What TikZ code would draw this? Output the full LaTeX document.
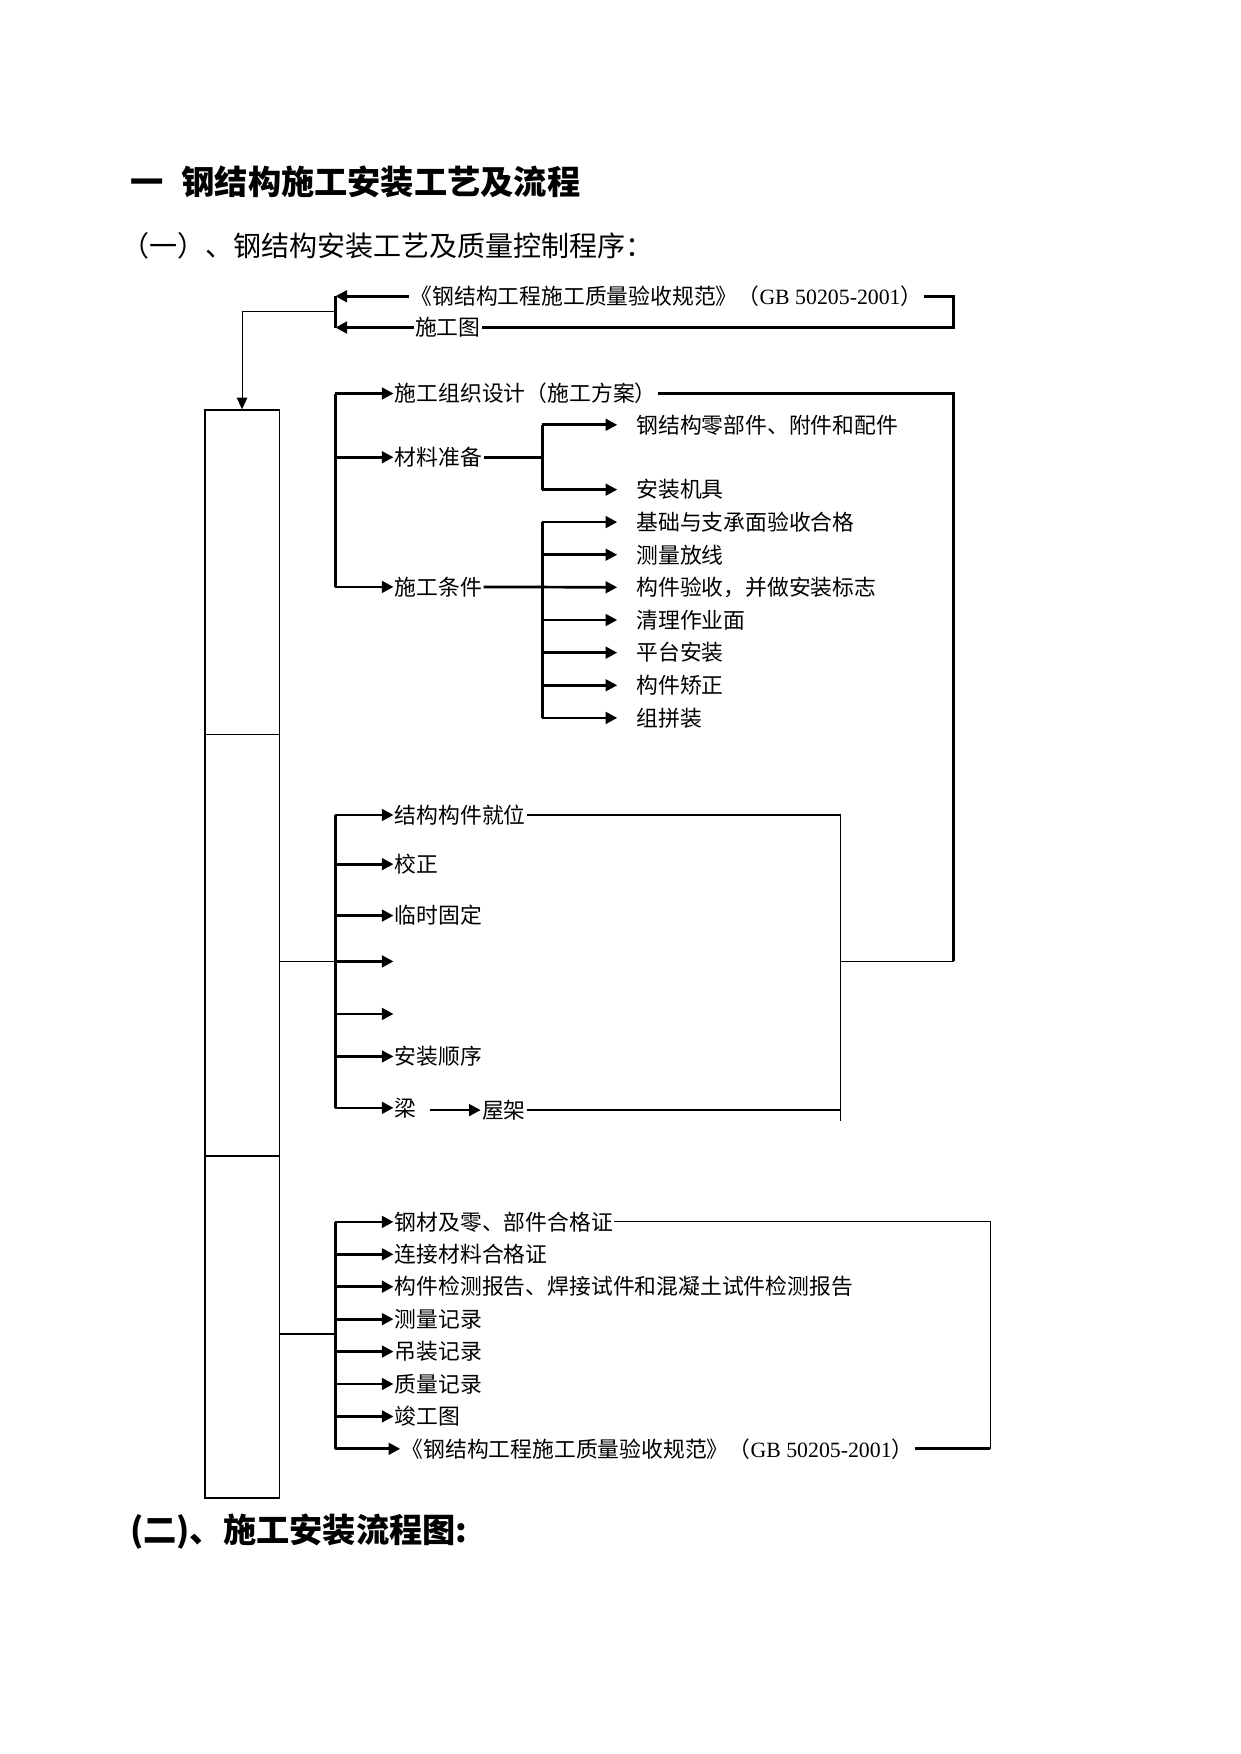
\documentclass[tikz,border=0pt]{standalone}
\usepackage{fontspec}
\setmainfont{Liberation Serif}
\newfontfamily\cjk{Noto Sans CJK SC}
\usetikzlibrary{arrows.meta}

\begin{document}
\begin{tikzpicture}[x=0.18919mm,y=-0.18919mm,
    txt/.style={anchor=west,inner sep=0.5pt,font=\cjk\fontsize{10.5pt}{12pt}\selectfont},
    head/.style={anchor=west,inner sep=0pt,font=\cjk\bfseries\fontsize{16pt}{19pt}\selectfont},
    subhead/.style={anchor=west,inner sep=0pt,font=\cjk\fontsize{13.5pt}{16pt}\selectfont},
    col/.style={draw,line width=0.9pt,minimum width=12.68mm,inner sep=0pt},
    bar/.style={line width=1.3pt},
    mid/.style={line width=0.8pt},
    link/.style={line width=0.5pt},
    arr/.style={line width=1.3pt,-{Triangle[length=5.6pt,width=5.6pt]}}]
  \useasboundingbox (0,0) rectangle (1110,1569);
  % headings
  \node[head] (ttl) at (116,163) {一\hspace{0.55em}钢结构施工安装工艺及流程};
  \node[subhead] (sub1) at (108,220) {（一）、钢结构安装工艺及质量控制程序：};
  \node[head] (sub2) at (116,1370) {(二)、施工安装流程图:};
  % left column
  \node[col,minimum height=54.87mm] (box1) at (216.5,512) {};
  \node[col,minimum height=71.32mm] (box2) at (216.5,845.5) {};
  \node[col,minimum height=57.89mm] (box3) at (216.5,1187) {};
  % basis
  \node[txt] (gb1) at (366,265) {《钢结构工程施工质量验收规范》（{\rmfamily GB 50205-2001}）};
  \node[txt] (dwg) at (370,293) {施工图};
  \coordinate (k0a) at (300,265);
  \coordinate (k0b) at (300,293);
  \coordinate (k0m) at (300,279);
  \coordinate (r0) at (853,265);
  \draw[arr] (gb1.west) -- (k0a);
  \draw[arr] (dwg.west) -- (k0b);
  \draw[bar] (k0a) -- (k0b);
  \draw[bar] (gb1.east) -- (r0) |- (dwg.east);
  \draw[link,-{Triangle[length=5.6pt,width=5pt]}] (k0m) -| (box1.north);
  % preparation
  \node[txt] (org) at (352,352) {施工组织设计（施工方案）};
  \node[txt] (mat) at (352,409) {材料准备};
  \node[txt] (cnd) at (352,525) {施工条件};
  \coordinate (k1) at (300,352);
  \draw[bar] (k1) -- (k1 |- cnd.west);
  \foreach \n in {org,mat,cnd}
    \draw[arr] (k1 |- \n.west) -- (\n.west);
  \node[txt] (mat1) at (568,380) {钢结构零部件、附件和配件};
  \node[txt] (mat2) at (568,438) {安装机具};
  \coordinate (k2) at (485,409);
  \draw[bar] (mat.east) -- (k2);
  \draw[bar] (k2 |- mat1.west) -- (k2 |- mat2.west);
  \foreach \n in {mat1,mat2}
    \draw[arr,shorten >=3mm] (k2 |- \n.west) -- (\n.west);
  \foreach \t [count=\i] in {基础与支承面验收合格,测量放线,构件验收，并做安装标志,清理作业面,平台安装,构件矫正,组拼装}
    \node[txt] (c\i) at (568,437.8+29.2*\i) {\t};
  \draw[bar] (k2 |- c1.west) -- (k2 |- c7.west);
  \foreach \i in {1,2,4,5,6,7}
    \draw[arr,shorten >=3mm] (k2 |- c\i.west) -- (c\i.west);
  \draw[arr,shorten >=3mm] (cnd.east) -- (c3.west);
  \coordinate (r1) at (853,352);
  \coordinate (r2) at (853,860);
  \coordinate (k4) at (752,860);
  \draw[bar] (org.east) -- (r1) -- (r2);
  \draw[mid] (r2) -- (k4);
  % erection
  \coordinate (k3) at (300,860);
  \draw[link] (box2.east |- k3) -- (k3);
  \foreach \t/\y [count=\i] in {结构构件就位/729,校正/773,临时固定/819,/860,/907,安装顺序/945,梁/991}
    \node[txt] (s\i) at (352,\y) {\t};
  \draw[bar] (k3 |- s1.west) -- (k3 |- s7.west);
  \foreach \i in {1,...,7}
    \draw[arr] (k3 |- s\i.west) -- (s\i.west);
  \node[txt] (roof) at (430,993) {屋架};
  \draw[arr,shorten <=2mm] (s7.east |- roof.west) -- (roof.west);
  \coordinate (k5a) at (752,729);
  \coordinate (k5b) at (752,1003);
  \draw[bar] (s1.east) -- (s1.east -| k5a);
  \draw[bar] (roof.east) -- (roof.east -| k5a);
  \draw[link] (k5a) -- (k5b);
  % records
  \coordinate (k6) at (300,1193);
  \draw[mid] (box3.east |- k6) -- (k6);
  \foreach \t [count=\i] in {钢材及零、部件合格证,连接材料合格证,构件检测报告、焊接试件和混凝土试件检测报告,测量记录,吊装记录,质量记录,竣工图}
    \node[txt] (d\i) at (352,1064+29*\i) {\t};
  \node[txt] (d8) at (358,1296) {《钢结构工程施工质量验收规范》（{\rmfamily GB 50205-2001}）};
  \draw[bar] (k6 |- d1.west) -- (k6 |- d8.west);
  \foreach \i in {1,...,8}
    \draw[arr] (k6 |- d\i.west) -- (d\i.west);
  \coordinate (r3a) at (886,1093);
  \coordinate (r3b) at (886,1296);
  \draw[link] (d1.east) -- (r3a) -- (r3b);
  \draw[bar] (r3b) -- (d8.east);
\end{tikzpicture}
\end{document}
